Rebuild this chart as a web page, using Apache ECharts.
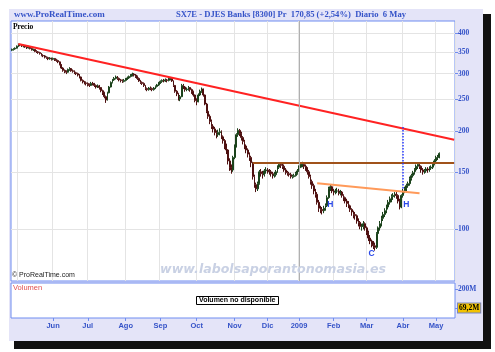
<!DOCTYPE html>
<html><head><meta charset="utf-8">
<script src="https://cdn.jsdelivr.net/npm/echarts@6/dist/echarts.min.js"></script>
<style>html,body{margin:0;padding:0;background:#fff}#c{width:495px;height:352px}</style>
</head><body><div id="c"></div><script>
// ---- data ----
const startDate = '2008-04-25';
const holidays = ['2008-05-01','2008-12-24','2008-12-25','2008-12-26','2008-12-31','2009-01-01','2009-04-10','2009-04-13','2009-05-01'];
const futureDays = 9;
const monthNames = ['Ene','Feb','Mar','Abr','May','Jun','Jul','Ago','Sep','Oct','Nov','Dic'];
const priceTicks = [100,150,200,250,300,350,400];
const volumeTicks = [69.2e6,200e6];
const lastClose = 170.85;
const lastVolume = 69.2e6;
// [open, close, low, high]
const ohlc = [
[354,356,352,358],[356,357,353,359],[357,359,355,361],[359,364,358,366],[364,368,362,371],
[368,367,364,370],[367,365,362,369],[365,366,361,368],[366,362,360,367],[362,360,357,364],
[360,362,358,365],[362,358,356,363],[358,355,353,360],[355,356,352,358],[356,351,349,357],
[351,350,347,354],[350,348,345,352],[348,346,343,350],[346,341,339,347],[341,340,337,344],
[340,337,334,342],[337,336,333,339],[336,333,330,338],[333,335,331,337],[335,332,329,336],
[332,334,330,336],[334,331,328,335],[331,329,326,333],[329,326,323,331],[326,320,318,327],
[320,312,310,321],[312,307,304,314],[307,305,301,309],[305,303,299,307],[303,309,302,311],
[309,311,306,314],[311,306,304,312],[306,305,302,309],[305,302,299,307],[302,300,297,304],
[300,297,294,302],[297,293,290,299],[293,286,284,294],[286,283,280,288],[283,281,278,285],
[281,280,276,284],[280,278,274,282],[278,276,273,280],[276,280,275,283],[280,279,276,283],
[279,276,273,281],[276,273,270,278],[273,275,271,278],[275,272,268,277],[272,266,263,273],
[266,262,258,268],[262,255,252,264],[255,249,244,257],[249,262,248,264],[262,273,261,275],
[273,282,272,284],[282,287,280,289],[287,290,285,293],[290,293,288,296],[293,290,287,295],
[290,287,284,292],[287,286,282,289],[286,284,281,288],[284,286,282,289],[286,289,284,291],
[289,291,287,294],[291,294,289,296],[294,297,292,299],[297,299,294,302],[299,297,294,301],
[297,294,291,299],[294,290,287,296],[290,285,283,292],[285,282,279,287],[282,280,277,284],
[280,276,273,282],[276,270,267,277],[270,268,265,272],[268,271,266,273],[271,270,267,274],
[270,268,265,272],[268,271,266,273],[271,274,269,276],[274,277,272,279],[277,281,275,283],
[281,284,279,286],[284,286,281,288],[286,285,282,289],[285,287,283,290],[287,286,282,289],
[286,289,284,292],[289,290,286,293],[290,285,283,292],[285,276,273,286],[276,265,262,277],
[265,260,256,267],[260,251,248,262],[251,255,247,258],[255,276,254,279],[276,273,269,279],
[273,268,264,275],[268,269,265,272],[269,272,266,275],[272,268,264,273],[268,264,260,270],
[264,258,255,266],[258,248,245,259],[248,246,240,252],[246,258,245,261],[258,265,256,268],
[265,269,262,272],[269,258,255,270],[258,242,240,259],[242,230,227,244],[230,222,218,233],
[222,214,210,225],[214,207,203,217],[207,203,198,210],[203,198,194,206],[198,195,190,201],
[195,198,192,202],[198,199,194,204],[199,192,189,201],[192,187,183,194],[187,180,176,189],
[180,175,170,183],[175,162,158,176],[162,155,151,165],[155,152,148,158],[152,166,150,168],
[166,180,164,182],[180,195,178,197],[195,201,192,204],[201,197,193,203],[197,191,187,199],
[191,186,182,193],[186,180,176,188],[180,175,171,182],[175,170,166,177],[170,166,162,172],
[166,160,155,168],[160,145,142,161],[145,137,134,147],[137,133,130,139],[133,138,131,140],
[138,150,137,152],[150,148,145,153],[148,147,143,151],[147,151,145,153],[151,152,148,155],
[152,151,148,154],[151,150,147,153],[150,148,145,152],[148,146,143,150],[146,147,144,150],
[147,150,145,152],[150,155,149,157],[155,158,153,160],[158,157,154,160],[157,156,153,159],
[156,152,150,158],[152,149,147,154],[149,148,146,151],[148,147,145,150],[147,145,143,149],
[145,145,143,147],[145,146,144,148],[146,148,145,150],[148,151,147,153],[151,155,150,157],
[155,158,154,160],[158,158,155,161],[158,156,153,159],[156,153,151,158],[153,150,147,155],
[150,145,143,152],[145,140,137,147],[140,136,133,142],[136,131,128,138],[131,128,125,133],
[128,121,119,130],[121,116,113,123],[116,115,112,118],[115,114,111,117],[114,116,112,118],
[116,118,114,120],[118,125,117,127],[125,133,124,135],[133,135,131,137],[135,131,129,136],
[131,130,127,133],[130,131,128,133],[131,131,129,134],[131,129,127,133],[129,130,127,132],
[130,127,125,131],[127,125,122,128],[125,122,120,126],[122,120,117,124],[120,118,116,122],
[118,115,113,119],[115,113,110,116],[113,111,108,114],[111,110,107,113],[110,106,104,111],
[106,105,102,108],[105,102,100,106],[102,102,99,104],[102,104,100,106],[104,101,99,105],
[101,98,96,102],[98,94,92,99],[94,92,90,96],[92,90,88,93],[90,89,87,92],
[89,88,86,91],[88,97,87,98],[97,101,95,102],[101,104,99,106],[104,108,102,110],
[108,111,106,113],[111,114,109,116],[114,117,112,119],[117,121,115,123],[121,124,119,126],
[124,126,121,128],[126,127,123,129],[127,128,125,130],[128,127,124,130],[127,122,120,128],
[122,117,115,124],[117,127,116,128],[127,131,125,133],[131,133,129,135],[133,136,131,138],
[136,138,134,140],[138,143,136,145],[143,146,141,148],[146,149,144,151],[149,152,147,154],
[152,156,150,158],[156,158,153,160],[158,156,153,160],[156,152,149,157],[152,150,147,154],
[150,151,148,153],[151,153,149,155],[153,152,149,155],[152,154,150,156],[154,155,152,157],
[155,158,153,160],[158,162,157,164],[162,166,160,168],[166,166.6,163,169],[166.6,170.85,165,172]
];
// drawn trend lines: [startIndex, startValue, endIndex, endValue]
const trendLine = [4, 370, 268, 188];
const necklineTop = [146, 160, 268, 160];
const necklineHS = [185, 138.4, 247, 128.9];
const targetLine = [237, 206, 237, 132];
const patternLabels = [['H',193,119],['C',218,84],['H',239,119]];

// ---- build ----
function fmt(d){return d.toISOString().slice(0,10);}
const dates=[];
{let d=new Date(startDate+'T00:00:00Z');
 while(dates.length<ohlc.length+futureDays){const wd=d.getUTCDay();const s=fmt(d);
  if(wd!==0&&wd!==6&&holidays.indexOf(s)<0)dates.push(s);d.setUTCDate(d.getUTCDate()+1);}}
const isMonthStart=i=>i>0&&dates[i].slice(5,7)!==dates[i-1].slice(5,7);
const monthLabel=v=>{const m=+v.slice(5,7);return m===1?v.slice(0,4):monthNames[m-1];};
const blue='#3553c8';
const serif='"Liberation Serif","DejaVu Serif",serif';
const sans='"Liberation Sans","DejaVu Sans",sans-serif';
const hlStyle={backgroundColor:'#f2c200',borderColor:'#7a86c0',borderWidth:1,padding:[1,1,0,1],color:'#000',fontSize:7.5,fontWeight:'bold',fontFamily:serif};

const chart=echarts.init(document.getElementById('c'),null,{renderer:'canvas'});
chart.setOption({
  animation:false,
  backgroundColor:'#fff',
  graphic:[
    {type:'rect',shape:{x:14,y:14,width:477,height:335},style:{fill:'#111'},z:-2,silent:true},
    {type:'rect',shape:{x:9,y:9,width:474,height:332},style:{fill:'#e4e4f8'},z:-1,silent:true}
  ],
  title:[
    {text:'www.ProRealTime.com',left:14,top:10,padding:0,textStyle:{color:blue,fontSize:9,fontWeight:'bold',fontFamily:serif}},
    {text:'SX7E - DJES Banks [8300] Pr  170,85 (+2,54%)  Diario  6 May',left:176,top:10,padding:0,textStyle:{color:blue,fontSize:8.6,fontWeight:'bold',fontFamily:serif}},
    {text:'Precio',left:13,top:23,padding:0,textStyle:{color:'#000',fontSize:7.5,fontWeight:'bold',fontFamily:serif}},
    {text:'© ProRealTime.com',left:12,top:272,padding:0,textStyle:{color:'#222',fontSize:7,fontWeight:'normal',fontFamily:sans}},
    {text:'www.labolsaporantonomasia.es',left:160,top:263,padding:0,textStyle:{color:'#c9d1e4',fontSize:12.6,fontWeight:'bold',fontStyle:'italic',fontFamily:'"DejaVu Sans",sans-serif'}},
    {text:'Volumen',left:13,top:284,padding:0,textStyle:{color:'#e05050',fontSize:7.5,fontWeight:'normal',fontFamily:sans}},
    {text:'Volumen no disponible',left:196,top:296,padding:[1,3],borderColor:'#000',borderWidth:1,backgroundColor:'#fff',textStyle:{color:'#000',fontSize:7,fontWeight:'bold',fontFamily:sans}}
  ],
  grid:[
    {left:11,right:40,top:21,height:260,show:true,borderColor:'#6f8cf0',borderWidth:1,backgroundColor:'#fff'},
    {left:11,right:40,top:283,height:35,show:true,borderColor:'#6f8cf0',borderWidth:1,backgroundColor:'#fff'}
  ],
  xAxis:[
    {type:'category',gridIndex:0,data:dates,boundaryGap:true,axisLine:{show:false},axisTick:{show:false},axisLabel:{show:false},
     splitLine:{show:true,interval:(i)=>isMonthStart(i),lineStyle:{color:'#e4e4e4',width:1}}},
    {type:'category',gridIndex:1,data:dates,boundaryGap:true,axisLine:{show:false},
     axisTick:{show:true,alignWithLabel:true,interval:(i)=>isMonthStart(i)&&i>10,length:3,lineStyle:{color:'#6f8cf0'}},
     axisLabel:{show:true,interval:(i)=>isMonthStart(i)&&i>10,formatter:monthLabel,color:blue,fontSize:7.5,fontWeight:'bold',fontFamily:sans,margin:4},
     splitLine:{show:false}}
  ],
  yAxis:[
    {type:'log',logBase:10,gridIndex:0,position:'right',min:69.4,max:435,axisLine:{show:false},
     axisTick:{show:true,customValues:priceTicks,length:3,lineStyle:{color:'#6f8cf0'}},
     axisLabel:{show:true,customValues:priceTicks,color:blue,fontSize:7.5,fontWeight:'bold',fontFamily:serif,margin:3,formatter:v=>String(Math.round(v))},
     splitLine:{show:true,lineStyle:{color:'#e4e4e4'}}},
    {type:'value',gridIndex:1,position:'right',min:0,max:241e6,axisLine:{show:false},
     axisTick:{show:true,customValues:volumeTicks,length:3,lineStyle:{color:'#6f8cf0'}},
     axisLabel:{show:true,customValues:volumeTicks,color:blue,fontSize:7.5,fontWeight:'bold',fontFamily:serif,margin:3,
       formatter:v=>v===lastVolume?'{hl|69,2M}':'200M',rich:{hl:hlStyle}},
     splitLine:{show:false}}
  ],
  series:[
    {type:'candlestick',xAxisIndex:0,yAxisIndex:0,data:ohlc,barWidth:'80%',
     itemStyle:{color:'#2f8f2f',color0:'#b82a2a',borderColor:'#1b421b',borderColor0:'#4e1010',borderWidth:1},
     markLine:{symbol:'none',silent:true,animation:false,label:{show:false},
       data:[
        [{coord:[dates[trendLine[0]],trendLine[1]],lineStyle:{color:'#ff2222',width:2,type:'solid'}},{coord:[dates[trendLine[2]],trendLine[3]]}],
        [{coord:[dates[necklineTop[0]],necklineTop[1]],lineStyle:{color:'#a0521a',width:2,type:'solid'}},{coord:[dates[necklineTop[2]],necklineTop[3]]}],
        [{coord:[dates[necklineHS[0]],necklineHS[1]],lineStyle:{color:'#ff9a5a',width:2,type:'solid'}},{coord:[dates[necklineHS[2]],necklineHS[3]]}],
        [{coord:[dates[targetLine[0]],targetLine[1]],lineStyle:{color:'#2a3cff',width:1.5,type:'dotted'}},{coord:[dates[targetLine[2]],targetLine[3]]}],
        [{coord:[dates[174],69.4],lineStyle:{color:'#b0b0b0',width:1,type:'solid'}},{coord:[dates[174],435]}],
        {yAxis:lastClose,lineStyle:{width:0,opacity:0},label:Object.assign({show:true,position:'end',distance:3,formatter:'170,85'},hlStyle)}
       ]},
     markPoint:{symbol:'circle',symbolSize:0,silent:true,animation:false,
       data:patternLabels.map(p=>({coord:[dates[p[1]],p[2]],label:{show:true,position:'inside',formatter:p[0],color:'#2a48e8',fontSize:8.5,fontWeight:'bold',fontFamily:sans}}))}
    }
  ]
});
</script></body></html>
